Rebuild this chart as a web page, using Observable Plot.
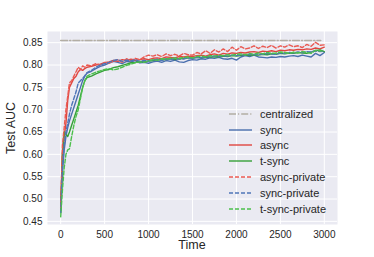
<!DOCTYPE html>
<html><head><meta charset="utf-8">
<script src="https://cdn.jsdelivr.net/npm/d3@7"></script>
<script src="https://cdn.jsdelivr.net/npm/@observablehq/plot@0.6"></script>
<style>
html,body{margin:0;padding:0;background:#fff;}
#wrap{position:relative;width:374px;height:257px;font-family:"Liberation Sans",Arial,sans-serif;}
#legend{position:absolute;left:229px;top:106px;font-size:11px;color:#262626;}
.row{height:15.8px;display:flex;align-items:center;}
.row svg{width:23px;height:8px;margin-right:8px;}
</style></head>
<body><div id="wrap"><div id="chart"></div><div id="legend"></div></div>
<script>
const times = [0,20,40,60,80,100,125,150,175,200,225,250,275,300,
 350,400,450,500,550,600,650,700,750,800,850,900,950,1000,
 1050,1100,1150,1200,1250,1300,1350,1400,1450,1500,
 1550,1600,1650,1700,1750,1800,1850,1900,1950,2000,
 2050,2100,2150,2200,2250,2300,2350,2400,2450,2500,
 2550,2600,2650,2700,2750,2800,2850,2900,2950,3000];

const centralizedTimes = [0, 2960];
const centralizedValues = [0.855, 0.855];

const sync = [0.47,0.56,0.61,0.64,0.66,0.675,0.69,0.705,0.72,0.735,0.75,0.765,0.775,0.782,
 0.786,0.792,0.797,0.800,0.804,0.808,0.806,0.803,0.808,0.807,0.810,0.805,0.806,0.804,
 0.807,0.809,0.806,0.810,0.808,0.811,0.807,0.806,0.810,0.812,
 0.811,0.814,0.813,0.816,0.815,0.817,0.814,0.813,0.815,0.811,
 0.818,0.821,0.819,0.822,0.818,0.817,0.816,0.818,0.817,0.819,
 0.818,0.820,0.821,0.819,0.822,0.820,0.818,0.826,0.821,0.828];

const async_ = [0.49,0.60,0.64,0.67,0.72,0.75,0.76,0.77,0.775,0.785,0.79,0.788,0.792,0.795,
 0.797,0.800,0.802,0.805,0.807,0.810,0.808,0.812,0.810,0.813,0.811,0.812,0.814,0.812,
 0.815,0.816,0.814,0.818,0.817,0.816,0.819,0.818,0.820,0.819,
 0.821,0.822,0.820,0.823,0.825,0.822,0.826,0.824,0.827,0.826,
 0.828,0.827,0.829,0.830,0.828,0.831,0.830,0.832,0.830,0.833,
 0.832,0.834,0.833,0.835,0.834,0.836,0.835,0.838,0.836,0.840];

const tsync = [0.47,0.60,0.65,0.645,0.64,0.65,0.665,0.68,0.695,0.71,0.73,0.75,0.765,0.772,
 0.775,0.780,0.784,0.788,0.790,0.794,0.796,0.799,0.802,0.805,0.806,0.808,0.807,0.809,
 0.810,0.812,0.811,0.813,0.814,0.812,0.815,0.814,0.816,0.815,
 0.817,0.816,0.818,0.817,0.819,0.818,0.820,0.819,0.821,0.820,
 0.821,0.822,0.821,0.823,0.822,0.824,0.823,0.825,0.824,0.826,
 0.825,0.827,0.826,0.828,0.827,0.826,0.829,0.832,0.834,0.830];

const asyncPrivate = [0.48,0.62,0.66,0.70,0.73,0.76,0.765,0.775,0.785,0.795,0.79,0.798,0.795,0.80,
 0.798,0.803,0.800,0.806,0.804,0.809,0.812,0.806,0.814,0.810,0.815,0.812,0.818,0.822,
 0.820,0.823,0.819,0.825,0.821,0.824,0.820,0.826,0.823,0.822,
 0.828,0.825,0.832,0.826,0.834,0.829,0.836,0.830,0.840,0.833,
 0.841,0.836,0.838,0.843,0.837,0.842,0.839,0.844,0.838,0.843,
 0.840,0.845,0.841,0.843,0.839,0.846,0.842,0.851,0.844,0.845];

const syncPrivate = [0.47,0.57,0.62,0.65,0.67,0.69,0.71,0.725,0.74,0.76,0.765,0.77,0.776,0.783,
 0.788,0.795,0.800,0.803,0.806,0.810,0.812,0.808,0.811,0.809,0.812,0.808,0.810,0.809,
 0.811,0.813,0.810,0.814,0.812,0.815,0.813,0.814,0.816,0.815,
 0.817,0.816,0.819,0.818,0.820,0.819,0.821,0.820,0.822,0.821,
 0.823,0.822,0.824,0.823,0.825,0.824,0.826,0.825,0.824,0.827,
 0.826,0.828,0.827,0.829,0.828,0.830,0.829,0.832,0.830,0.831];

const tsyncPrivate = [0.46,0.52,0.57,0.60,0.61,0.612,0.64,0.665,0.685,0.70,0.725,0.75,0.765,0.775,
 0.780,0.784,0.787,0.790,0.792,0.789,0.791,0.795,0.799,0.802,0.805,0.807,0.806,0.809,
 0.812,0.811,0.814,0.813,0.815,0.816,0.814,0.817,0.818,0.816,
 0.819,0.820,0.818,0.821,0.820,0.822,0.821,0.823,0.822,0.824,
 0.825,0.823,0.826,0.824,0.827,0.825,0.828,0.826,0.827,0.829,
 0.828,0.826,0.829,0.827,0.830,0.828,0.826,0.833,0.831,0.832];

const xTicks = [0,500,1000,1500,2000,2500,3000];
const yTicks = [0.45,0.50,0.55,0.60,0.65,0.70,0.75,0.80,0.85];

const series = [
  {name:"centralized", t:centralizedTimes, v:centralizedValues, color:"#b3aea4", dash:"7,2,1.2,2"},
  {name:"sync", t:times, v:sync, color:"#4a6fae", dash:null},
  {name:"async", t:times, v:async_, color:"#e0463f", dash:null},
  {name:"t-sync", t:times, v:tsync, color:"#35a038", dash:null},
  {name:"async-private", t:times, v:asyncPrivate, color:"#ea5a52", dash:"4,2"},
  {name:"sync-private", t:times, v:syncPrivate, color:"#4f75b8", dash:"4,2"},
  {name:"t-sync-private", t:times, v:tsyncPrivate, color:"#4cc04c", dash:"4,2"}
];

const marks = [
  Plot.frame({fill:"#EAEAF2", stroke:null}),
  Plot.gridX(xTicks, {stroke:"#fff", strokeOpacity:1, strokeWidth:1}),
  Plot.gridY(yTicks, {stroke:"#fff", strokeOpacity:1, strokeWidth:1}),
  Plot.axisX(xTicks, {tickSize:0, tickPadding:6, fontSize:10, label:null, tickFormat:d3.format("d")}),
  Plot.axisY(yTicks, {tickSize:0, tickPadding:5, fontSize:10, label:null, tickFormat:d3.format(".2f")})
];
for (const s of series) {
  const data = s.t.map((t,i)=>({t, v:s.v[i]}));
  marks.push(Plot.line(data, {x:"t", y:"v", stroke:s.color, strokeWidth:1.4,
    strokeDasharray:s.dash || undefined, strokeLinejoin:"round"}));
}

const chart = Plot.plot({
  width:374, height:257,
  marginLeft:47, marginRight:37, marginTop:31, marginBottom:33,
  style:{fontFamily:"Liberation Sans, Arial, sans-serif", color:"#262626", background:"#fff"},
  x:{domain:[-150,3150]},
  y:{domain:[0.443,0.875]},
  marks
});
document.getElementById("chart").appendChild(chart);

const ns = "http://www.w3.org/2000/svg";
function addText(txt, x, y, rot, size){
  const el = document.createElementNS(ns,"text");
  el.textContent = txt;
  el.setAttribute("x", x); el.setAttribute("y", y);
  el.setAttribute("text-anchor","middle");
  el.setAttribute("font-size", size);
  el.setAttribute("fill","#262626");
  el.setAttribute("dominant-baseline","middle");
  if (rot) el.setAttribute("transform", `rotate(${rot},${x},${y})`);
  chart.appendChild(el);
}
addText("Time", 192, 246, 0, 12.5);
addText("Test AUC", 12, 128, -90, 12.5);

const leg = document.getElementById("legend");
for (const s of series) {
  const row = document.createElement("div");
  row.className = "row";
  row.innerHTML = `<svg viewBox="0 0 23 8"><line x1="0" y1="4" x2="23" y2="4" stroke="${s.color}" stroke-width="1.4" ${s.dash?`stroke-dasharray="${s.dash}"`:""}/></svg><span>${s.name}</span>`;
  leg.appendChild(row);
}
</script></body></html>
